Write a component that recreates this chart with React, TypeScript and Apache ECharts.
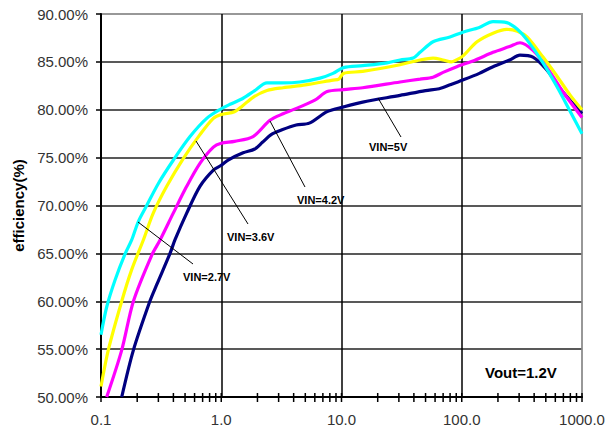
import React, { useEffect, useRef } from "react";
import * as echarts from "echarts";

// ---- data ----
const X_5V = [0.1487, 0.186, 0.255, 0.29, 0.375, 0.412, 0.516, 0.665, 0.86, 1.0, 1.14, 1.52, 1.9, 2.2, 2.6, 3.2, 4.2, 5.4, 7.6, 10.4, 15, 30.7, 50, 65, 79.8, 102, 140, 182, 250, 305, 391, 506, 700, 1000];
const Y_5V = [50.0, 54.9, 60.0, 61.7, 65.0, 66.4, 69.2, 72.0, 73.7, 74.2, 74.75, 75.5, 75.9, 76.6, 77.4, 77.9, 78.4, 78.6, 79.8, 80.3, 80.8, 81.5, 82.0, 82.2, 82.6, 83.1, 83.8, 84.5, 85.2, 85.7, 85.5, 84.2, 81.8, 79.6];

const X_42V = [0.1115, 0.1487, 0.186, 0.264, 0.31, 0.399, 0.516, 0.665, 0.86, 1.0, 1.29, 1.84, 2.54, 3.3, 4.52, 6, 7.6, 10.4, 15, 30.7, 45, 57.7, 70, 91, 130, 182, 250, 305, 391, 506, 700, 1000];
const Y_42V = [50.0, 54.9, 60.0, 64.8, 66.4, 69.2, 72.0, 74.4, 76.1, 76.5, 76.7, 77.2, 78.9, 79.6, 80.3, 81.0, 81.9, 82.1, 82.3, 82.9, 83.2, 83.4, 83.9, 84.5, 85.2, 86.0, 86.6, 87.0, 86.2, 84.5, 81.8, 79.2];

const X_36V = [0.1, 0.115, 0.1487, 0.18, 0.225, 0.272, 0.352, 0.483, 0.665, 0.86, 1.0, 1.29, 1.5, 1.84, 2.4, 3.27, 5, 8.5, 9.5, 10.4, 15, 30.7, 45, 57.7, 70, 82, 90, 102, 134, 182, 237, 290, 349, 474, 620, 800, 1000];
const Y_36V = [51.1, 54.9, 60.0, 63.3, 66.4, 69.2, 72.0, 74.9, 77.4, 79.1, 79.5, 79.8, 80.4, 81.3, 82.0, 82.3, 82.6, 83.1, 83.2, 83.8, 84.0, 84.7, 85.2, 85.4, 85.2, 85.0, 85.2, 85.6, 87.1, 88.0, 88.4, 88.2, 87.6, 85.5, 83.5, 81.5, 80.0];

const X_27V = [0.1, 0.1115, 0.1307, 0.158, 0.18, 0.204, 0.24, 0.3, 0.4, 0.55, 0.757, 1.0, 1.2, 1.52, 1.9, 2.4, 3.2, 4.52, 6.62, 8.5, 10.4, 15, 23.9, 30.7, 39.4, 45, 57.7, 79.8, 102, 140, 182, 237, 290, 349, 474, 620, 800, 1000];
const Y_27V = [56.5, 59.4, 62.2, 64.9, 66.4, 68.3, 70.0, 72.3, 74.75, 77.2, 79.1, 80.1, 80.6, 81.2, 82.0, 82.8, 82.8, 82.9, 83.3, 83.8, 84.4, 84.6, 84.9, 85.2, 85.4, 86.0, 87.1, 87.6, 88.1, 88.6, 89.2, 89.1, 88.4, 87.3, 84.9, 82.4, 79.8, 77.5];

const SERIES_NAMES = ["VIN=5V", "VIN=4.2V", "VIN=3.6V", "VIN=2.7V"];
const X_DECADES = [0.1, 1, 10, 100];
const X_TICK_MULTIPLIERS = [1, 2, 3, 4, 5, 6, 7, 8, 9];
const X_LAST_TICK = 1000;
const Y_MIN = 50;
const Y_MAX = 90;
const Y_STEP = 5;
const Y_AXIS_NAME = "efficiency(%)";
const NOTE = "Vout=1.2V";

const FONT = "'Liberation Sans', Arial, sans-serif";

function pairs(xs: number[], ys: number[]) {
  return xs.map((x, i) => [x, ys[i]]);
}

export default function App() {
  const ref = useRef<HTMLDivElement>(null);

  useEffect(() => {
    if (!ref.current) return;
    const chart = echarts.init(ref.current, undefined, { renderer: "svg" });

    const tickValues: number[][] = [];
    X_DECADES.forEach((d) => X_TICK_MULTIPLIERS.forEach((m) => tickValues.push([d * m, Y_MIN])));
    tickValues.push([X_LAST_TICK, Y_MIN]);

    const colors = ["#000080", "#ff00ff", "#ffff00", "#00ffff"];
    const datasets = [pairs(X_5V, Y_5V), pairs(X_42V, Y_42V), pairs(X_36V, Y_36V), pairs(X_27V, Y_27V)];

    const labelStyle = { fontFamily: FONT, fontWeight: "bold" as const, fontSize: 11, fill: "#000" };
    const lead = (x1: number, y1: number, x2: number, y2: number) => ({
      type: "line",
      shape: { x1, y1, x2, y2 },
      style: { stroke: "#000", lineWidth: 1 },
      z: 100,
    });
    const txt = (x: number, y: number, text: string) => ({
      type: "text",
      x,
      y,
      style: { ...labelStyle, text, textVerticalAlign: "middle" },
      z: 100,
    });

    chart.setOption({
      animation: false,
      grid: {
        left: 101,
        right: 26,
        top: 14,
        bottom: 35,
        show: true,
        borderColor: "#999",
        borderWidth: 2,
        backgroundColor: "#fff",
      },
      xAxis: {
        type: "log",
        logBase: 10,
        min: 0.1,
        max: 1000,
        axisLine: { show: true, lineStyle: { color: "#000", width: 2 } },
        axisTick: { show: false },
        axisLabel: {
          margin: 15,
          fontFamily: FONT,
          fontSize: 15,
          color: "#333",
          showMinLabel: true,
          showMaxLabel: true,
          formatter: (v: number) => v.toFixed(1),
        },
        splitLine: {
          show: true,
          lineStyle: { color: ["#000", "#000", "#000", "#000", "#999"], width: 1.5 },
        },
      },
      yAxis: {
        type: "value",
        min: Y_MIN,
        max: Y_MAX,
        interval: Y_STEP,
        name: Y_AXIS_NAME,
        nameLocation: "middle",
        nameGap: 75,
        nameRotate: 90,
        nameTextStyle: { fontFamily: FONT, fontWeight: "bold", fontSize: 15, color: "#000" },
        axisLine: { show: true, lineStyle: { color: "#000", width: 2 } },
        axisTick: { show: true, length: 5, lineStyle: { color: "#000", width: 1.5 } },
        axisLabel: {
          margin: 13,
          fontFamily: FONT,
          fontSize: 15,
          color: "#333",
          formatter: (v: number) => v.toFixed(2) + "%",
        },
        splitLine: {
          show: true,
          lineStyle: {
            color: ["#000", "#222", "#222", "#222", "#222", "#222", "#222", "#222", "#999"],
            width: 1.5,
          },
        },
      },
      series: [
        ...datasets.map((data, i) => ({
          name: SERIES_NAMES[i],
          type: "line",
          data,
          showSymbol: false,
          symbol: "none",
          smooth: 0.3,
          lineStyle: { color: colors[i], width: 3.2 },
          z: 3 + i,
        })),
        {
          type: "custom",
          data: tickValues,
          clip: false,
          z: 10,
          encode: { x: 0, y: 1 },
          renderItem: (_p: any, api: any) => {
            const pt = api.coord([api.value(0), api.value(1)]);
            return {
              type: "line",
              shape: { x1: pt[0], y1: pt[1] - 4, x2: pt[0], y2: pt[1] + 5 },
              style: { stroke: "#000", lineWidth: 1.5 },
            };
          },
        },
      ],
      graphic: [
        lead(378, 98, 401, 137),
        txt(369, 147, SERIES_NAMES[0]),
        lead(270, 121, 305, 187),
        txt(297, 200, SERIES_NAMES[1]),
        lead(196, 141, 248, 224),
        txt(227, 237, SERIES_NAMES[2]),
        lead(138, 222, 193, 264),
        txt(183, 277, SERIES_NAMES[3]),
        {
          type: "text",
          x: 485,
          y: 372,
          style: { fontFamily: FONT, fontWeight: "bold", fontSize: 15, fill: "#000", text: NOTE, textVerticalAlign: "middle" },
          z: 100,
        },
      ],
    });

    return () => chart.dispose();
  }, []);

  return <div ref={ref} style={{ position: "absolute", left: 0, top: 0, width: 608, height: 432 }} />;
}
